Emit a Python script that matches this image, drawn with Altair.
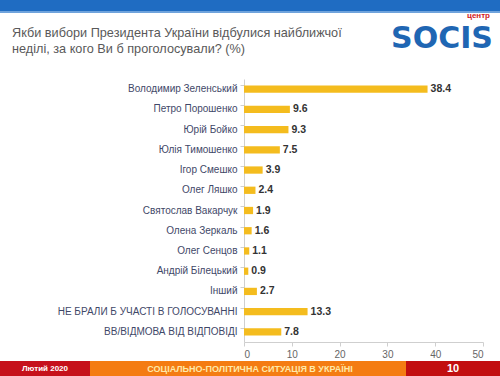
import altair as alt
import pandas as pd

names = ["Володимир Зеленський", "Петро Порошенко", "Юрій Бойко", "Юлія Тимошенко",
         "Ігор Смешко", "Олег Ляшко", "Святослав Вакарчук", "Олена Зеркаль",
         "Олег Сенцов", "Андрій Білецький", "Інший",
         "НЕ БРАЛИ Б УЧАСТІ В ГОЛОСУВАННІ", "ВВ/ВІДМОВА ВІД ВІДПОВІДІ"]
values = [38.4, 9.6, 9.3, 7.5, 3.9, 2.4, 1.9, 1.6, 1.1, 0.9, 2.7, 13.3, 7.8]
x_ticks = [0, 10, 20, 30, 40, 50]

title_lines = ["Якби вибори Президента України відбулися найближчої",
               "неділі, за кого Ви б проголосували? (%)"]
footer_texts = ["Лютий 2020", "СОЦІАЛЬНО-ПОЛІТИЧНА СИТУАЦІЯ В УКРАЇНІ", "10"]

df = pd.DataFrame({"name": names, "value": values})

L, T = 244, 79
W, H = 239, 263
FONT = "Liberation Sans"

y_enc = alt.Y("name:N", sort=names, title=None,
              scale=alt.Scale(paddingInner=0.64, paddingOuter=0.32),
              axis=alt.Axis(labelFont=FONT, labelFontSize=10, labelColor="#3f4868",
                            labelPadding=3, tickSize=4, tickColor="#cfcfcf",
                            domainColor="#cfcfcf", bandPosition=0, labelLimit=240))
x_enc = alt.X("value:Q", title=None,
              scale=alt.Scale(domain=[0, 50], nice=False),
              axis=alt.Axis(values=x_ticks, grid=False, labelFont=FONT, labelFontSize=10,
                            labelColor="#666666", tickSize=4, tickColor="#cfcfcf",
                            domainColor="#cfcfcf", labelPadding=3))

bars = alt.Chart(df).mark_bar(color="#F4BC1E").encode(x=x_enc, y=y_enc)
labels = alt.Chart(df).mark_text(align="left", dx=3, font=FONT, fontSize=10.5,
                                 fontWeight="bold", color="#333333").encode(
    x="value:Q", y=alt.Y("name:N", sort=names), text=alt.Text("value:Q", format=".1f"))

one = alt.Data(values=[{"k": 1}])

def rect(x0, x1, y0, y1, color):
    return alt.Chart(one).mark_rect(color=color).encode(
        x=alt.value(x0 - L), x2=alt.value(x1 - L), y=alt.value(y0 - T), y2=alt.value(y1 - T))

def txt(s, x, y, size, color, weight="normal", align="left", font=FONT, baseline="middle"):
    return alt.Chart(one).mark_text(text=s, align=align, baseline=baseline, font=font,
                                    fontSize=size, fontWeight=weight, color=color).encode(
        x=alt.value(x - L), y=alt.value(y - T))

deco = [
    rect(0, 500, 0, 11, "#1f6cc2"),
    rect(0, 500, 11, 13, "#6fa3dc"),
    txt(title_lines[0], 12, 33, 12.7, "#595959"),
    txt(title_lines[1], 12, 49, 12.7, "#595959"),
    txt("SOCIS", 442, 48, 30, "#1f66b3", weight="bold", align="center",
        font="DejaVu Sans", baseline="alphabetic"),
    txt("центр", 490, 16, 8, "#d22020", weight="bold", align="right"),
    rect(0, 90, 361, 376, "#c6111b"),
    rect(90, 406, 361, 376, "#f47c12"),
    rect(406, 500, 361, 376, "#c20e10"),
    txt(footer_texts[0], 45, 368.5, 8, "#ffffff", weight="bold", align="center"),
    txt(footer_texts[1], 250, 368.5, 9, "#ffe9a8", weight="bold", align="center"),
    txt(footer_texts[2], 453, 368.5, 11, "#ffffff", weight="bold", align="center"),
]

chart = alt.layer(bars, labels, *deco).properties(
    width=W, height=H,
    autosize=alt.AutoSizeParams(type="none"),
    padding={"left": L, "top": T, "right": 500 - L - W, "bottom": 376 - T - H},
    background="#ffffff",
).configure_view(stroke=None)

chart.save("out.html", embed_options={"renderer": "svg", "actions": False})
